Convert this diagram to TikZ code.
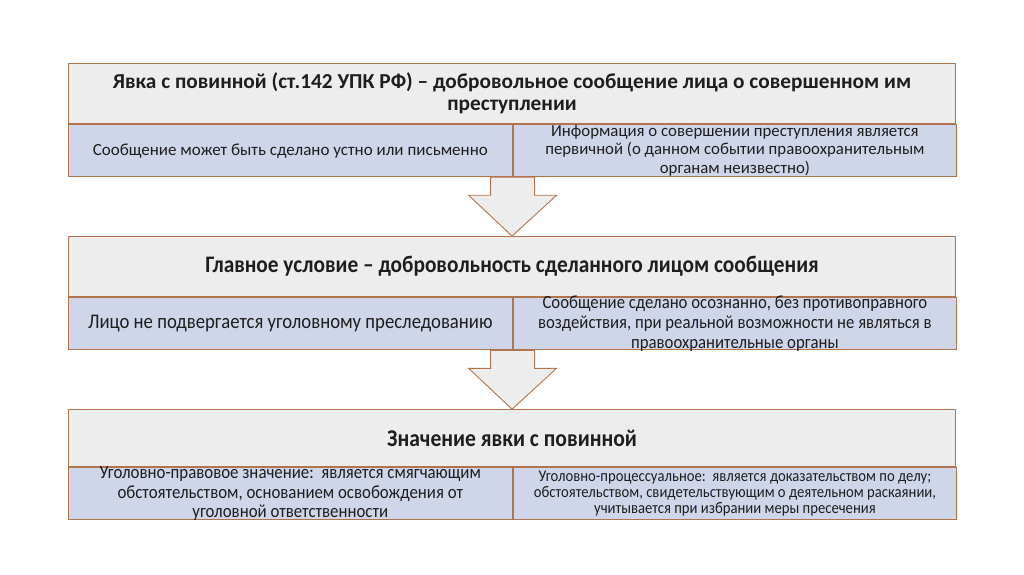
\documentclass[tikz,border=0pt]{standalone}
\usepackage{fontspec}
\setmainfont{Carlito}
\newfontfamily\schmal[FakeStretch=0.9]{Carlito}
\usetikzlibrary{positioning, calc}
\definecolor{rahmen}{RGB}{178,116,76}
\definecolor{kopffarbe}{RGB}{237,237,237}
\definecolor{zellfarbe}{RGB}{208,214,234}
\definecolor{schrift}{RGB}{30,30,30}
\tikzset{
    kopfbox/.style  = {draw=rahmen, fill=kopffarbe, line width=1.1pt, align=flush center,
                       inner sep=0pt, minimum width=887pt, minimum height=60pt, text=schrift},
    zellbox/.style  = {draw=rahmen, fill=zellfarbe, line width=1.1pt, align=flush center,
                       inner xsep=0pt, inner ysep=-4pt, minimum width=443.5pt, minimum height=52pt,
                       text width=440pt, text=schrift},
    pfeil/.style    = {draw=rahmen, fill=kopffarbe, line width=0.9pt, line join=miter}
}

\begin{document}
\begin{tikzpicture}[x=1pt, y=-1pt, node distance=0pt]
        \useasboundingbox (0,0) rectangle (1024,574);

        % Block 1
        \node[kopfbox, anchor=north west, font=\bfseries\fontsize{21.3}{22}\selectfont] (kopf1) at (68,63)
            {Явка с повинной (ст.142 УПК РФ) – добровольное сообщение лица о совершенном им\\преступлении};
        \node[zellbox, below right=of kopf1.south west, font=\fontsize{17}{18.5}\selectfont] (zelle1a)
            {Сообщение может быть сделано устно или письменно};
        \node[zellbox, below right=of zelle1a.north east, font=\fontsize{16.8}{18.5}\selectfont] (zelle1b)
            {Информация о совершении преступления является\\первичной (о данном событии правоохранительным\\органам неизвестно)};

        % Block 2
        \node[kopfbox, below=112pt of kopf1, font=\schmal\bfseries\fontsize{23.7}{24}\selectfont] (kopf2)
            {Главное условие – добровольность сделанного лицом сообщения};
        \node[zellbox, below right=of kopf2.south west, font=\schmal\fontsize{20.8}{21}\selectfont] (zelle2a)
            {Лицо не подвергается уголовному преследованию};
        \node[zellbox, below right=of zelle2a.north east, font=\schmal\fontsize{18.6}{20}\selectfont] (zelle2b)
            {Сообщение сделано осознанно, без противоправного\\воздействия, при реальной возможности не являться в\\правоохранительные органы};

        % Block 3
        \node[kopfbox, below=112pt of kopf2, minimum height=57pt,
              font=\schmal\bfseries\fontsize{24}{24}\selectfont] (kopf3)
            {Значение явки с повинной};
        \node[zellbox, below right=of kopf3.south west, font=\schmal\fontsize{18.7}{19.5}\selectfont] (zelle3a)
            {Уголовно-правовое значение:\ \ является смягчающим\\обстоятельством, основанием освобождения от\\уголовной ответственности};
        \node[zellbox, below right=of zelle3a.north east, font=\schmal\fontsize{16.3}{16}\selectfont] (zelle3b)
            {Уголовно-процессуальное:\ \ является доказательством по делу;\\обстоятельством, свидетельствующим о деятельном раскаянии,\\учитывается при избрании меры пресечения};

        % Pfeile
        \draw[pfeil] ($(zelle1a.south east)+(-22,0)$) -- ++(0,18) -- ++(-22,0) -- (kopf2.north)
            -- ($(zelle1a.south east)+(44,18)$) -- ++(-22,0) -- ++(0,-18) -- cycle;
        \draw[pfeil] ($(zelle2a.south east)+(-22,0)$) -- ++(0,18) -- ++(-22,0) -- (kopf3.north)
            -- ($(zelle2a.south east)+(44,18)$) -- ++(-22,0) -- ++(0,-18) -- cycle;
    \end{tikzpicture}
\end{document}
